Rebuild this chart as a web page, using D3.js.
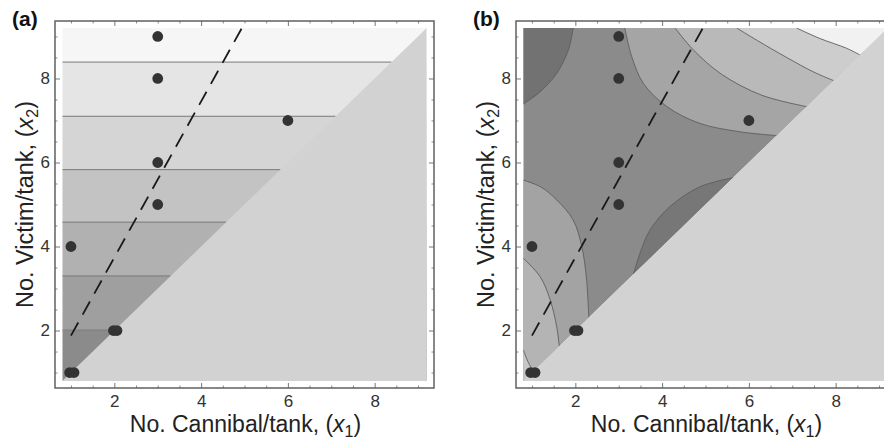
<!DOCTYPE html>
<html>
<head>
<meta charset="utf-8">
<script src="https://cdn.jsdelivr.net/npm/d3@7/dist/d3.min.js"></script>
<style>
  body { margin: 0; background: #fff; }
  text { font-family: "Liberation Sans", Arial, sans-serif; }
  .ticklab text { font-size: 17px; fill: #333; }
</style>
</head>
<body>
<div id="graph"></div>
<script>
// observed points (x1 = cannibals, x2 = victims), shared by both panels
var pointX = [0.97, 1.07, 1.0, 1.98, 2.06, 3, 3, 3, 3, 6];
var pointY = [1, 1, 4, 2, 2, 5, 6, 8, 9, 7];

// dashed line end points
var trendX = [1.0, 5.03];
var trendY = [1.88, 9.368];

var tickVals = [2, 4, 6, 8];
var minorTicks = [1, 1.5, 2.5, 3, 3.5, 4.5, 5, 5.5, 6.5, 7, 7.5, 8.5, 9];

// panel (a): horizontal contour levels of x2
var levelsA = [2.01, 3.30, 4.58, 5.83, 7.10, 8.39];

// panel (b): contour curves, [x1, x2]
var bTopLeft = [[0.8, 7.39], [1.185, 7.68], [1.57, 8.12], [1.84, 8.68], [1.95, 9.2]];
var bLeft1 = [[0.8, 5.58], [1.2, 5.42], [1.57, 5.11], [1.95, 4.63], [2.15, 3.99], [2.26, 3.2], [2.31, 2.31]];
var bLeft2 = [[0.8, 3.72], [1.19, 3.28], [1.42, 2.73], [1.57, 2.09], [1.63, 1.63]];
var bLeft3 = [[0.8, 1.54], [0.89, 1.3], [0.99, 1.1], [1.04, 1.04]];
var bUpper1 = [[3.14, 9.2], [3.3, 8.52], [3.57, 7.88], [4.11, 7.33], [4.87, 6.93], [5.8, 6.73], [6.64, 6.64]];
var bUpper2 = [[4.3, 9.2], [4.72, 8.68], [5.37, 8.1], [6.3, 7.6], [7.33, 7.33]];
var bUpper3 = [[5.72, 9.2], [6.2, 8.9], [6.87, 8.5], [7.5, 8.15], [7.95, 7.95]];
var bUpper4 = [[7.1, 9.2], [7.64, 8.95], [8.25, 8.72], [8.56, 8.56]];
var bLowerRight = [[3.34, 3.34], [3.49, 3.84], [3.72, 4.39], [4.18, 4.95], [4.87, 5.42], [5.64, 5.64]];

// grey shades
var shadesA = ["#8b8b8b", "#9f9f9f", "#b1b1b1", "#c3c3c3", "#d5d5d5", "#e5e5e5", "#f6f6f6"];
var triangleGrey = "#d2d2d2";
var lo = 0.8, hi = 9.2, pad = 0.168;

var svg = d3.select("#graph").append("svg")
  .attr("width", 884)
  .attr("height", 443);

function makePanel(left, id) {
  var x = d3.scaleLinear().domain([lo - pad, hi + pad]).range([left, left + 379]);
  var y = d3.scaleLinear().domain([lo - pad, hi + pad]).range([388, 21]);
  var g = svg.append("g");
  g.append("clipPath").attr("id", id)
    .append("rect")
    .attr("x", x(lo)).attr("y", y(hi))
    .attr("width", x(hi) - x(lo)).attr("height", y(lo) - y(hi));
  var plot = g.append("g").attr("clip-path", "url(#" + id + ")");
  return { x: x, y: y, g: g, plot: plot };
}

function poly(p, pts) {
  return "M" + pts.map(d => p.x(d[0]) + "," + p.y(d[1])).join("L") + "Z";
}

function curvePath(p, pts, extra) {
  var line = d3.line().x(d => p.x(d[0])).y(d => p.y(d[1])).curve(d3.curveCatmullRom.alpha(0.5));
  var s = line(pts);
  if (extra) s += extra.map(d => "L" + p.x(d[0]) + "," + p.y(d[1])).join("") + "Z";
  return s;
}

function finishPanel(p, label) {
  // lower-right triangle
  p.plot.append("path")
    .attr("d", poly(p, [[lo, lo], [hi, lo], [hi, hi]]))
    .attr("fill", triangleGrey);

  // dashed line
  p.g.append("line")
    .attr("x1", p.x(trendX[0])).attr("y1", p.y(trendY[0]))
    .attr("x2", p.x(trendX[1])).attr("y2", p.y(trendY[1]))
    .attr("stroke", "#1a1a1a")
    .attr("stroke-width", 1.8)
    .attr("stroke-dasharray", "15,9");

  // points
  p.g.selectAll("circle.pt")
    .data(pointX.map((d, i) => [d, pointY[i]]))
    .enter()
    .append("circle")
    .attr("class", "pt")
    .attr("cx", d => p.x(d[0]))
    .attr("cy", d => p.y(d[1]))
    .attr("r", 5.4)
    .attr("fill", "#333");

  // frame ticks, pointing inward
  var x0 = p.x.range()[0], x1 = p.x.range()[1];
  var yb = p.y.range()[0], yt = p.y.range()[1];
  var sides = [
    [d3.axisBottom(p.x), "translate(0," + yb + ")", 7],
    [d3.axisTop(p.x), "translate(0," + yt + ")", 0],
    [d3.axisLeft(p.y), "translate(" + x0 + ",0)", 5],
    [d3.axisRight(p.y), "translate(" + x1 + ",0)", 0]
  ];
  sides.forEach(s => {
    var minor = p.g.append("g").attr("transform", s[1])
      .call(s[0].tickValues(minorTicks).tickSize(-2.5).tickFormat(""));
    minor.select(".domain").remove();
    minor.selectAll("line").attr("stroke", "#8a8a8a");
    var major = p.g.append("g").attr("transform", s[1])
      .call(s[0].tickValues(tickVals).tickSize(-5).tickPadding(s[2])
        .tickFormat(s[2] ? d3.format("d") : ""));
    major.attr("class", "ticklab")
      .attr("font-size", 17)
      .attr("font-family", "'Liberation Sans', Arial, sans-serif");
    major.select(".domain").remove();
    major.selectAll("line").attr("stroke", "#777");
  });

  p.g.append("rect")
    .attr("x", x0).attr("y", yt)
    .attr("width", x1 - x0).attr("height", yb - yt)
    .attr("fill", "none")
    .attr("stroke", "#606060")
    .attr("stroke-width", 1.5);

  // axis titles
  var xt = p.g.append("text")
    .attr("x", (x0 + x1) / 2 + 1)
    .attr("y", 432)
    .attr("text-anchor", "middle")
    .attr("font-size", "23px")
    .attr("fill", "#222");
  xt.append("tspan").text("No. Cannibal/tank, (");
  xt.append("tspan").attr("font-style", "italic").text("x");
  xt.append("tspan").attr("font-size", "16px").attr("dy", 5).text("1");
  xt.append("tspan").attr("dy", -5).text(")");

  var yt2 = p.g.append("text")
    .attr("transform", "translate(" + (x0 - 22) + "," + ((yb + yt) / 2) + ") rotate(-90)")
    .attr("text-anchor", "middle")
    .attr("font-size", "23.5px")
    .attr("fill", "#222");
  yt2.append("tspan").text("No. Victim/tank, (");
  yt2.append("tspan").attr("font-style", "italic").text("x");
  yt2.append("tspan").attr("font-size", "16px").attr("dy", 5).text("2");
  yt2.append("tspan").attr("dy", -5).text(")");

  p.g.append("text")
    .attr("x", x0 - 43)
    .attr("y", 26)
    .attr("font-size", "21px")
    .attr("font-weight", "bold")
    .attr("fill", "#111")
    .text(label);
}

// ---------- panel (a) ----------
var pa = makePanel(55, "clipA");
var bandsA = [lo].concat(levelsA).concat([hi]);
pa.plot.selectAll("rect.band")
  .data(d3.range(bandsA.length - 1))
  .enter()
  .append("rect")
  .attr("class", "band")
  .attr("x", pa.x(lo))
  .attr("width", pa.x(hi) - pa.x(lo))
  .attr("y", i => pa.y(bandsA[i + 1]))
  .attr("height", i => pa.y(bandsA[i]) - pa.y(bandsA[i + 1]))
  .attr("fill", i => shadesA[i]);
pa.plot.selectAll("line.lev")
  .data(levelsA)
  .enter()
  .append("line")
  .attr("x1", pa.x(lo)).attr("x2", d => pa.x(d))
  .attr("y1", d => pa.y(d)).attr("y2", d => pa.y(d))
  .attr("stroke", "#777")
  .attr("stroke-width", 1);
finishPanel(pa, "(a)");

// ---------- panel (b) ----------
var pb = makePanel(516, "clipB");
pb.plot.append("path")
  .attr("d", poly(pb, [[lo, lo], [lo, hi], [hi, hi]]))
  .attr("fill", "#8b8b8b");
var regionsB = [
  [bTopLeft, [[lo, hi]], "#727272"],
  [bLeft1, [[lo, lo]], "#a3a3a3"],
  [bLeft2, [[lo, lo]], "#b4b4b4"],
  [bLeft3, [[lo, lo]], "#c6c6c6"],
  [bUpper1, [[hi, hi]], "#a5a5a5"],
  [bUpper2, [[hi, hi]], "#b9b9b9"],
  [bUpper3, [[hi, hi]], "#cdcdcd"],
  [bUpper4, [[hi, hi]], "#f1f1f1"],
  [bLowerRight, [], "#777777"]
];
regionsB.forEach(r => {
  pb.plot.append("path")
    .attr("d", curvePath(pb, r[0], r[1].length ? r[1] : [r[0][0]]))
    .attr("fill", r[2]);
});
regionsB.forEach(r => {
  pb.plot.append("path")
    .attr("d", curvePath(pb, r[0]))
    .attr("fill", "none")
    .attr("stroke", "#5e5e5e")
    .attr("stroke-width", 0.9);
});
finishPanel(pb, "(b)");
</script>
</body>
</html>
